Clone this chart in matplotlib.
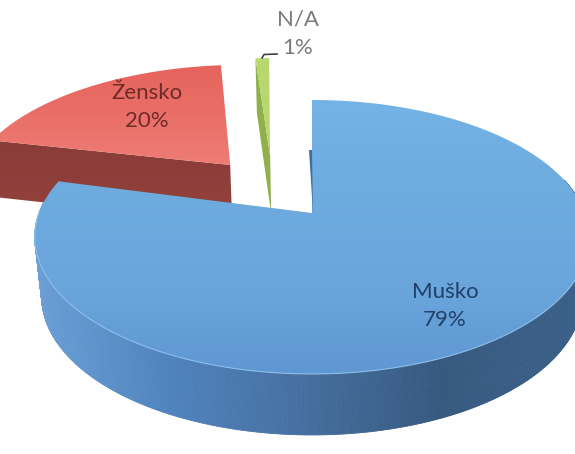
import numpy as np
import matplotlib
matplotlib.use('Agg')
from matplotlib import pyplot as plt
from matplotlib.colors import LinearSegmentedColormap
from matplotlib.collections import PolyCollection
from matplotlib.patches import Polygon

categories = ['Muško', 'Žensko', 'N/A']
shares = [79, 20, 1]

# perspective of the pie plane, in pixels of the picture
cx, cy, R = 312, 213, 273
persp, a = 0.175, 132.8
# exploded offsets of each slice on the unit disc
offsets = [(0, 0), (-0.32, 0.386), (-0.166, 0.466)]
# the two pulled out slices sit turned a little
turn = -1.8


def project(u, v, lower=False):
    u, v = np.asarray(u, float), np.asarray(v, float)
    w = 1 + persp * v
    s = 0.975 if lower else 1.0
    x = cx + s * R * u / w
    y = cy - s * a * v / w
    if lower:
        y = y + 59 - 6 * v
    return np.column_stack([x, y])


def wedge(start, end, off, n=240):
    t = np.radians(np.linspace(start, end, n))
    u = np.r_[off[0], off[0] + np.sin(t)]
    v = np.r_[off[1], off[1] + np.cos(t)]
    return u, v


def grad_fill(ax, pts, colors):
    ymin, ymax = pts[:, 1].min(), pts[:, 1].max()
    xmin, xmax = pts[:, 0].min(), pts[:, 0].max()
    cmap = LinearSegmentedColormap.from_list('g', colors)
    g = np.linspace(0, 1, 256).reshape(-1, 1)
    im = ax.imshow(g, cmap=cmap, extent=(xmin, xmax, ymax, ymin), aspect='auto', zorder=ax.zo)
    clip = Polygon(pts, closed=True, transform=ax.transData, fc='none', ec='none')
    ax.add_patch(clip)
    im.set_clip_path(clip)
    ax.zo += 1


fig = plt.figure(figsize=(5.75, 4.54), dpi=100)
ax = fig.add_axes([0, 0, 1, 1])
ax.zo = 2

angles = np.r_[0, np.cumsum(shares)] * 3.6
a0, a1, a2, a3 = angles

# N/A slice, cut face then top
off = offsets[2]
t = np.radians(a2 + turn)
tl = project(off[0] + np.sin(t), off[1] + np.cos(t))
bl = project(off[0] + np.sin(t), off[1] + np.cos(t), lower=True)
ap = project(off[0], off[1])
apb = project(off[0], off[1], lower=True)
ax.add_patch(Polygon(np.vstack([tl, ap, apb, bl]), fc='#8fb04a', ec='none', zorder=ax.zo))
ax.zo += 1
u, v = wedge(a2 + turn, a3 + turn, off, 20)
ax.add_patch(Polygon(project(u, v), fc='#b9d76f', ec='none', zorder=ax.zo))
ax.zo += 1

# Žensko slice
off = offsets[1]
t = np.radians(a1 + turn)
edge = np.vstack([project(off[0], off[1]), project(off[0] + np.sin(t), off[1] + np.cos(t))])
edge_low = np.vstack([project(off[0], off[1], True), project(off[0] + np.sin(t), off[1] + np.cos(t), True)])
grad_fill(ax, np.vstack([edge, edge_low[::-1]]), ['#8a3c38', '#94423d'])
u, v = wedge(a1 + turn, a2 + turn, off)
grad_fill(ax, project(u, v), ['#e5645d', '#ea6f68', '#ee7c76'])

# Muško slice, rim as narrow quads so the shade runs along it
off = offsets[0]
t = np.radians(np.linspace(75, 275, 400))
top = project(off[0] + np.sin(t), off[1] + np.cos(t))
low = project(off[0] + np.sin(t), off[1] + np.cos(t), True)
quads = [np.vstack([top[i], top[i + 1], low[i + 1], low[i]]) for i in range(len(t) - 1)]
rim = LinearSegmentedColormap.from_list('rim', ['#6b9fd6', '#4f83bd', '#466f9f', '#36597f', '#3b6189'])
mids = np.array([q[:, 0].mean() for q in quads])
cols = rim(np.clip((mids - 35) / 540, 0, 1))
ax.add_collection(PolyCollection(quads, facecolors=cols, edgecolors=cols, linewidths=0.6, zorder=ax.zo))
ax.zo += 1
u, v = wedge(a0, a1, off, 400)
grad_fill(ax, project(u, v), ['#74b3e6', '#6eabdf', '#6aa6dc', '#5f97d2'])
# light line along the front of the top face
front = (np.degrees(t) > 95) & (np.degrees(t) < 270)
ax.plot(top[front, 0], top[front, 1], color='#8dbfea', lw=0.8, zorder=ax.zo)
ax.zo += 1
# thin cut face on the upright edge
ax.add_patch(Polygon([(309, 150), (312, 150), (313, 213)], fc='#3f6fa5', ec='none', zorder=ax.zo))
ax.zo += 1

# leader of the small slice
ax.plot([262, 264, 277], [58, 54.5, 54], color='#404040', lw=1.2, zorder=ax.zo)

labels = [f'{c}\n{s}%' for c, s in zip(categories, shares)]
font = dict(family='Lato', fontsize=16, ha='center', va='center', linespacing=1.55, zorder=50)
ax.text(445, 306, labels[0], color='#1f4068', **font)
ax.text(147, 107, labels[1], color='#6d2b28', **font)
ax.text(298, 34, labels[2], color='#7b7b7b', **font)

ax.set_xlim(0, 575)
ax.set_ylim(454, 0)
ax.axis('off')
fig.savefig('out.png', dpi=100)
